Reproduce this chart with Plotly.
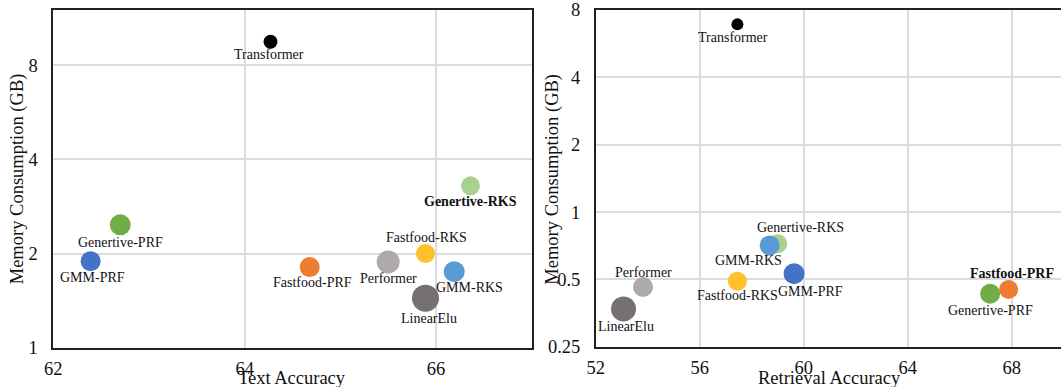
import math
import plotly.graph_objects as go

# ---------------- data ----------------
methods = ["Transformer", "Genertive-RKS", "Genertive-PRF", "GMM-PRF", "Fastfood-PRF",
           "Performer", "Fastfood-RKS", "GMM-RKS", "LinearElu"]
text_acc = [64.27, 66.36, 62.70, 62.39, 64.68, 65.50, 65.89, 66.19, 65.89]
text_mem = [9.50, 3.29, 2.47, 1.89, 1.81, 1.88, 2.00, 1.75, 1.44]
retr_acc = [57.45, 59.00, 67.17, 59.63, 67.88, 53.82, 57.45, 58.69, 53.07]
retr_mem = [6.90, 0.721, 0.431, 0.530, 0.451, 0.462, 0.490, 0.709, 0.369]

text_xticks = [62, 64, 66]
text_yticks = [1, 2, 4, 8]
retr_xticks = [52, 56, 60, 64, 68]
retr_yticks = [0.25, 0.5, 1, 2, 4, 8]
retr_ytick_labels = ["0.25", "0.5", "1", "2", "4", "8"]

# ---------------- style ----------------
colors = ["#000000", "#A9D18E", "#70AD47", "#4472C4", "#ED7D31",
          "#AEAAAA", "#FFC02E", "#5B9BD5", "#767171"]
text_sizes = [14, 19, 21, 20, 20, 23, 19, 21, 27]
retr_sizes = [12, 19, 20, 21, 19, 20, 19, 20, 25]
# label offsets in pixels (dx right, dy down)
text_off = [(-1, 12.5), (0, 15.6), (0, 17.3), (1.6, 16.4), (2.4, 15.7),
            (0, 17), (1, -15.6), (15, 16), (3, 20)]
retr_off = [(-4.4, 13.4), (22.7, -16.7), (0, 17), (16.7, 17.3), (3.7, -15.7),
            (0, -15), (0, 14.6), (-20.7, 15.3), (2.3, 18)]
text_bold = "Genertive-RKS"
retr_bold = "Fastfood-PRF"

FONT = "Liberation Serif"
W, H = 1061, 387
GRID = "#DCDCDC"
LINE = "#222222"

fig = go.Figure()
fig.add_trace(go.Scatter(x=text_acc, y=text_mem, mode="markers", xaxis="x", yaxis="y",
                         marker=dict(color=colors, size=text_sizes, opacity=1, line=dict(width=0)),
                         hoverinfo="skip", showlegend=False))
fig.add_trace(go.Scatter(x=retr_acc, y=retr_mem, mode="markers", xaxis="x2", yaxis="y2",
                         marker=dict(color=colors, size=retr_sizes, opacity=1, line=dict(width=0)),
                         hoverinfo="skip", showlegend=False))

annotations = []
for name, xv, yv, (dx, dy) in zip(methods, text_acc, text_mem, text_off):
    t = f"<b>{name}</b>" if name == text_bold else name
    annotations.append(dict(x=xv, y=math.log10(yv), xref="x", yref="y", text=t, showarrow=False,
                            xshift=dx, yshift=-dy, font=dict(family=FONT, size=14, color="#111")))
for name, xv, yv, (dx, dy) in zip(methods, retr_acc, retr_mem, retr_off):
    t = f"<b>{name}</b>" if name == retr_bold else name
    annotations.append(dict(x=xv, y=math.log10(yv), xref="x2", yref="y2", text=t, showarrow=False,
                            xshift=dx, yshift=-dy, font=dict(family=FONT, size=14, color="#111")))

# axis titles
tfont = dict(family=FONT, size=18.5, color="#111")
annotations += [
    dict(text="Text Accuracy", x=292.3 / W, y=1 - 378.3 / H, xref="paper", yref="paper",
         showarrow=False, font=tfont, xanchor="center", yanchor="middle"),
    dict(text="Retrieval Accuracy", x=829.5 / W, y=1 - 378.0 / H, xref="paper", yref="paper",
         showarrow=False, font=tfont, xanchor="center", yanchor="middle"),
    dict(text="Memory Consumption (GB)", x=17.3 / W, y=1 - 179 / H, xref="paper", yref="paper",
         showarrow=False, font=tfont, textangle=-90, xanchor="center", yanchor="middle"),
    dict(text="Memory Consumption (GB)", x=551.7 / W, y=1 - 179 / H, xref="paper", yref="paper",
         showarrow=False, font=tfont, textangle=-90, xanchor="center", yanchor="middle"),
]

tickfont = dict(family=FONT, size=18.5, color="#111")
common_axis = dict(showgrid=True, gridcolor=GRID, gridwidth=1.5, zeroline=False, automargin=False,
                   ticks="", tickfont=tickfont, linecolor=LINE, linewidth=1.5, showline=True)

fig.update_layout(
    width=W, height=H,
    margin=dict(l=0, r=0, t=0, b=0, pad=0),
    paper_bgcolor="white", plot_bgcolor="white",
    font=dict(family=FONT),
    showlegend=False,
    annotations=annotations,
    xaxis=dict(domain=[53.3 / W, 531.7 / W], range=[62, 67], tickvals=text_xticks,
               anchor="y", mirror=True, ticklabelstandoff=3, **common_axis),
    yaxis=dict(domain=[1 - 347.7 / H, 1 - 10 / H], type="log", range=[0, math.log10(12.0)],
               tickvals=text_yticks, ticktext=[str(v) for v in text_yticks],
               anchor="x", mirror=True, ticklabelstandoff=10, **common_axis),
    xaxis2=dict(domain=[595.7 / W, 1.0], range=[52, 52 + (W - 595.7) / 26.0], tickvals=retr_xticks,
                anchor="y2", mirror=True, ticklabelstandoff=3, **common_axis),
    yaxis2=dict(domain=[1 - 346.7 / H, 1 - 10 / H], type="log",
                range=[math.log10(0.25), math.log10(8)],
                tickvals=retr_yticks, ticktext=retr_ytick_labels,
                anchor="x2", mirror=False, ticklabelstandoff=10, **common_axis),
)

fig.write_html("out.html", config={"displayModeBar": False},
               post_script="document.body.style.margin='0';document.body.style.overflow='hidden';")
